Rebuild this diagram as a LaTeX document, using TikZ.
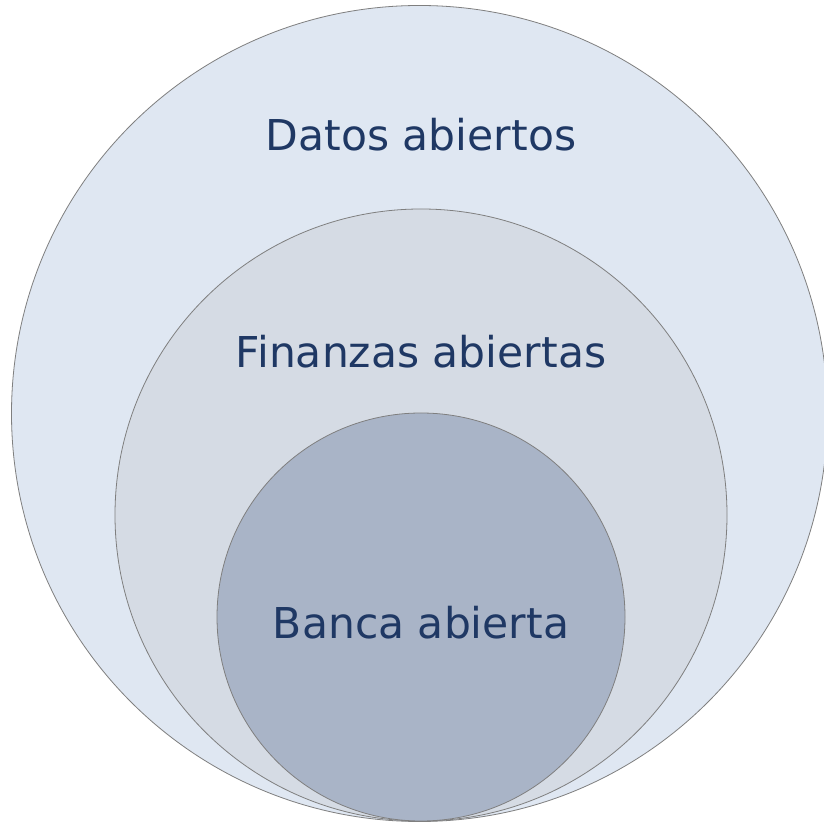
\documentclass[tikz,border=0pt]{standalone}
\usepackage{fontspec}
\setmainfont{DejaVu Sans}
\definecolor{outerc}{HTML}{DFE7F2}
\definecolor{midc}{HTML}{D5DBE4}
\definecolor{innerc}{HTML}{A9B4C7}
\definecolor{edgec}{HTML}{7F7F7F}
\definecolor{txtc}{HTML}{1F3864}
\begin{document}
\begin{tikzpicture}[x=1pt,y=1pt,
  ring/.style={draw=edgec,line width=0.8pt},
  lbl/.style={text=txtc,font=\fontsize{42.5}{50}\selectfont,anchor=base,inner sep=0pt}]
\useasboundingbox (0,0) rectangle (824,822);
\begin{scope}
\clip (0,0) rectangle (824,822);
\fill[white] (0,0) rectangle (824,822);
\draw[ring,fill=outerc] (419.5,408.5) circle (408);
\draw[ring,fill=midc] (421,307) circle (306);
\draw[ring,fill=innerc] (421,205) circle (204);
\end{scope}
\node[lbl] (datos) at (421,671) {Datos abiertos};
\node[lbl] (finanzas) at (421,454) {Finanzas abiertas};
\node[lbl] (banca) at (421,183.5) {Banca abierta};
\end{tikzpicture}
\end{document}
